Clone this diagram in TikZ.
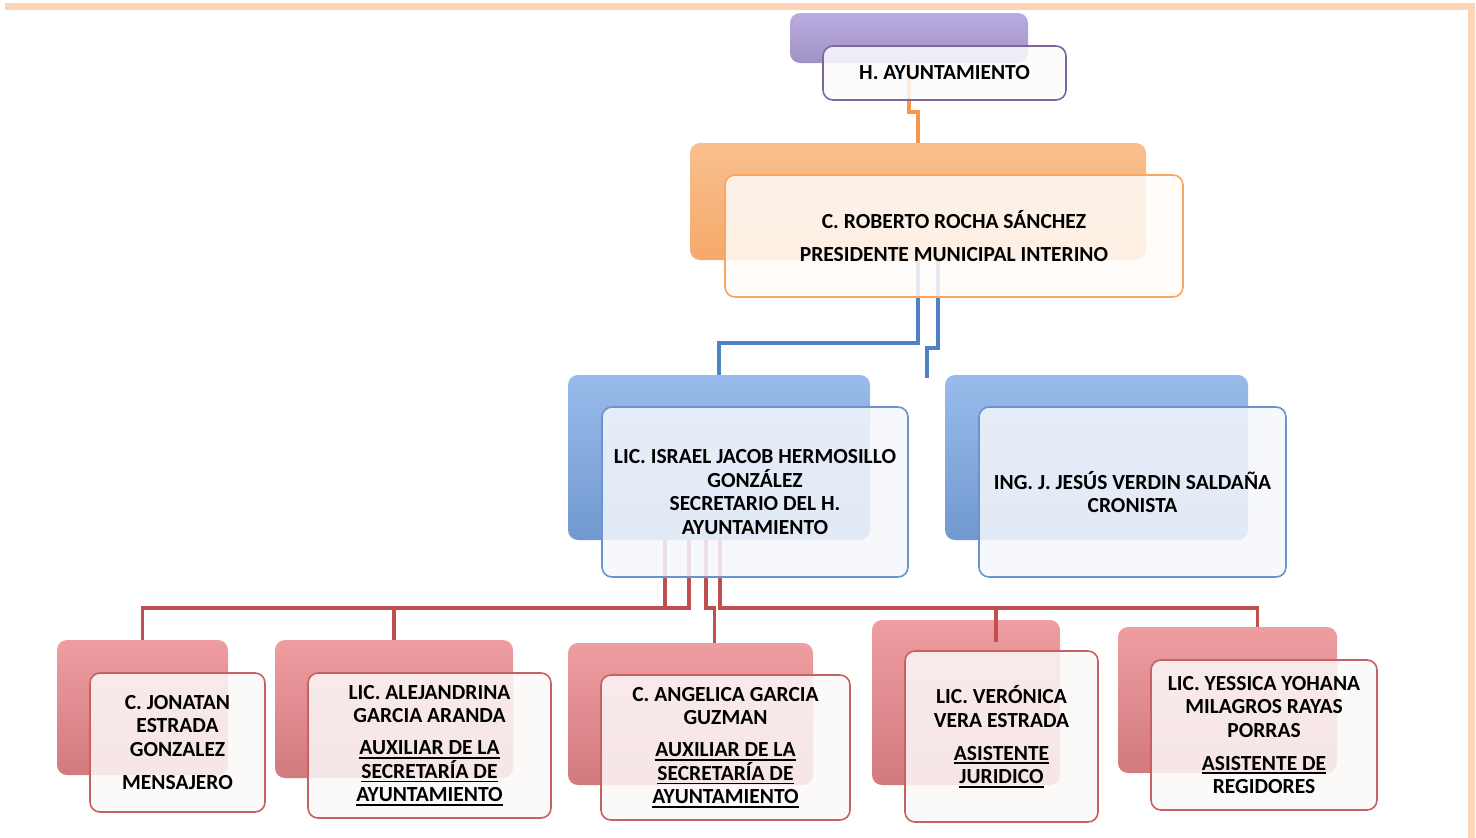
\documentclass[tikz,border=0pt]{standalone}
\usepackage{fontspec}
\setmainfont{Carlito}
\usepackage{xcolor}
\usetikzlibrary{positioning}

\definecolor{peach}{HTML}{FBD5B5}
\definecolor{purpletop}{HTML}{BAABE0}
\definecolor{purplebot}{HTML}{A093C4}
\definecolor{purpleline}{HTML}{8064A2}
\definecolor{orangetop}{HTML}{F9C08E}
\definecolor{orangebot}{HTML}{F4A96A}
\definecolor{orangeline}{HTML}{F79646}
\definecolor{bluetop}{HTML}{98BBEA}
\definecolor{bluebot}{HTML}{7199D0}
\definecolor{blueline}{HTML}{4F81C8}
\definecolor{redtop}{HTML}{EE9DA1}
\definecolor{redbot}{HTML}{D27A7E}
\definecolor{redline}{HTML}{C0504D}

\newcommand{\lineunder}[1]{\setbox0=\hbox{#1}\rlap{\rule[-4pt]{\wd0}{1.8pt}}\box0}

\begin{document}
\begin{tikzpicture}[x=1pt, y=-1pt,
    every node/.style={font=\bfseries\fontsize{21.5}{23.5}\selectfont, align=center},
    size/.style 2 args={minimum width=#1pt, minimum height=#2pt},
    back/.style={rounded corners=10pt, inner sep=0pt},
    front/.style={rounded corners=10pt, line width=1.6pt, fill opacity=0.86, text opacity=1, inner sep=2pt},
    purpleback/.style={back, top color=purpletop, bottom color=purplebot},
    orangeback/.style={back, top color=orangetop, bottom color=orangebot},
    blueback/.style={back, top color=bluetop, bottom color=bluebot},
    redback/.style={back, top color=redtop, bottom color=redbot},
    purplefront/.style={front, draw=purpleline, fill=white!97!purpleline},
    orangefront/.style={front, draw=orangeline!85, fill=white!96!orangeline},
    bluefront/.style={front, draw=blueline!85, fill=white!94!blueline},
    redfront/.style={front, draw=redline!90, fill=white!96!redline},
    link/.style={line width=3.6pt}
]
    \useasboundingbox (0,0) rectangle (1476,838);

    % Page frame
    \fill[peach] (5,3) rectangle (1474,10);
    \fill[peach] (1468,3) rectangle (1475,838);

    % Back boxes
    \node[purpleback, size={238}{50}] (ayunb) at (909,38) {};
    \node[orangeback, size={456}{117}] (presb) at (918,201.5) {};
    \node[blueback, size={302}{165}] (secb) at (719,457.5) {};
    \node[blueback, size={303}{165}] (cronb) at (1096.5,457.5) {};
    \node[redback, size={171}{135}] (jonb) at (142.5,707.5) {};
    \node[redback, size={238}{138}] (aleb) at (394,709) {};
    \node[redback, size={245}{142}] (angb) at (690.5,714) {};
    \node[redback, size={188}{165}] (verb) at (966,702.5) {};
    \node[redback, size={219}{146}] (yesb) at (1227.5,700) {};

    % Connectors
    \coordinate (cronend) at (927,378);
    \draw[orangeline, link] (ayunb.south) -- ++(0,49) -| (presb.north);
    \draw[blueline, link] (presb.south) -- ++(0,83) -| (secb.north);
    \draw[blueline, link] ([xshift=20pt]presb.south) -- ++(0,88) -| (cronend);
    \draw[redline, link] ([xshift=-54pt]secb.south) -- ++(0,68) -| (jonb.north);
    \draw[redline, link] ([xshift=-30pt]secb.south) -- ++(0,68) -| (aleb.north);
    \draw[redline, link] ([xshift=-13pt]secb.south) -- ++(0,68) -| ([xshift=24pt]angb.north);
    \draw[redline, link] ([xshift=1pt]secb.south) -- ++(0,68) -| ([xshift=30pt,yshift=-22pt]verb.north);
    \draw[redline, link] ([xshift=1pt]secb.south) -- ++(0,68) -| ([xshift=30pt]yesb.north);

    % Front boxes
    \node[purplefront, size={243}{54}] (ayun) at (944.5,73) {H. AYUNTAMIENTO};
    \node[orangefront, size={458}{122}] (pres) at (954,236)
        {C. ROBERTO ROCHA SÁNCHEZ\\[9.5pt]PRESIDENTE MUNICIPAL INTERINO};
    \node[bluefront, size={306}{170}] (sec) at (755,492)
        {LIC. ISRAEL JACOB HERMOSILLO\\GONZÁLEZ\\SECRETARIO DEL H.\\AYUNTAMIENTO};
    \node[bluefront, size={307}{170}] (cron) at (1132.5,492)
        {ING. J. JESÚS VERDIN SALDAÑA\\CRONISTA};
    \node[redfront, size={175}{139}] (jon) at (177.5,742.5)
        {C. JONATAN\\ESTRADA\\GONZALEZ\\[9.5pt]MENSAJERO};
    \node[redfront, size={243}{145}] (ale) at (429.5,745.5)
        {LIC. ALEJANDRINA\\GARCIA ARANDA\\[8.5pt]\lineunder{AUXILIAR DE LA}\\\lineunder{SECRETARÍA DE}\\\lineunder{AYUNTAMIENTO}};
    \node[redfront, size={249}{145}] (ang) at (725.5,747.5)
        {C. ANGELICA GARCIA\\GUZMAN\\[8.5pt]\lineunder{AUXILIAR DE LA}\\\lineunder{SECRETARÍA DE}\\\lineunder{AYUNTAMIENTO}};
    \node[redfront, size={193}{171}] (ver) at (1001.5,736.5)
        {LIC. VERÓNICA\\VERA ESTRADA\\[9.5pt]\lineunder{ASISTENTE}\\\lineunder{JURIDICO}};
    \node[redfront, size={226}{150}] (yes) at (1264,735)
        {LIC. YESSICA YOHANA\\MILAGROS RAYAS\\PORRAS\\[9.5pt]\lineunder{ASISTENTE DE}\\REGIDORES};
\end{tikzpicture}
\end{document}
